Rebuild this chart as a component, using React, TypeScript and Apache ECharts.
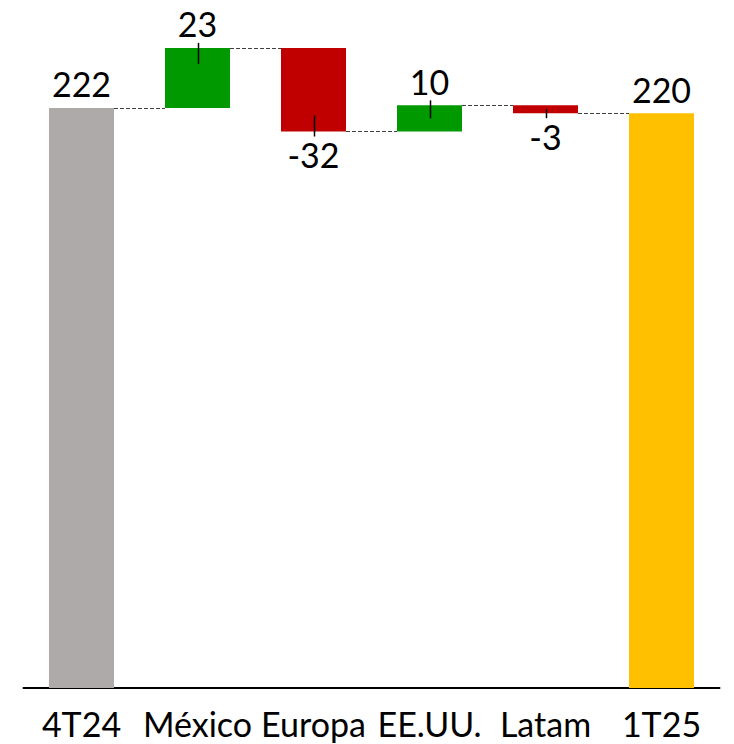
import React, { useEffect, useRef } from "react";
import * as echarts from "echarts";

const categories = ["4T24", "México", "Europa", "EE.UU.", "Latam", "1T25"];
const startTotal = 222;
const changes = [23, -32, 10, -3];
const endTotal = 220;

const colorTotalStart = "#AEAAAA";
const colorTotalEnd = "#FFC000";
const colorUp = "#009900";
const colorDown = "#C00000";

export default function App() {
  const ref = useRef<HTMLDivElement>(null);
  useEffect(() => {
    if (!ref.current) return;
    const chart = echarts.init(ref.current, undefined, { renderer: "svg" });

    const levels: number[] = [startTotal];
    changes.forEach((c) => levels.push(levels[levels.length - 1] + c));
    const base: number[] = [0];
    const visible: any[] = [];
    const labelValues: number[] = [startTotal];
    visible.push({ value: startTotal, itemStyle: { color: colorTotalStart }, label: { position: "top" } });
    changes.forEach((c, k) => {
      const prev = levels[k];
      const next = levels[k + 1];
      base.push(Math.min(prev, next));
      visible.push({
        value: Math.abs(c),
        itemStyle: { color: c >= 0 ? colorUp : colorDown },
        label: { position: c >= 0 ? "top" : "bottom", distance: c >= 0 ? 7 : 6 },
      });
      labelValues.push(c);
    });
    base.push(0);
    visible.push({ value: endTotal, itemStyle: { color: colorTotalEnd }, label: { position: "top" } });
    labelValues.push(endTotal);

    const barWidth = 65;
    const connectors = levels.map((lv, i) => [i, lv]);
    const leaders = changes.map((c, k) => [k + 1, levels[k + 1], levels[k]]);

    chart.setOption({
      animation: false,
      grid: { left: 23.5, right: 14.5, top: 8.7, bottom: 56 },
      xAxis: {
        type: "category",
        data: categories,
        axisTick: { show: false },
        axisLine: { show: true, lineStyle: { color: "#000", width: 2 } },
        axisLabel: {
          color: "#000",
          fontFamily: "Lato",
          fontSize: 34,
          margin: 18,
          interval: 0,
        },
      },
      yAxis: {
        type: "value",
        min: 0,
        max: 260,
        show: false,
        splitLine: { show: false },
      },
      series: [
        {
          type: "bar",
          stack: "w",
          data: base,
          barWidth,
          itemStyle: { color: "rgba(0,0,0,0)" },
          silent: true,
        },
        {
          type: "bar",
          stack: "w",
          data: visible,
          barWidth,
          label: {
            show: true,
            color: "#000",
            fontFamily: "Lato",
            fontSize: 34,
            distance: 7,
            formatter: (p: any) => String(labelValues[p.dataIndex]),
          },
        },
        {
          type: "custom",
          data: connectors,
          z: 5,
          renderItem: (params: any, api: any) => {
            const i = api.value(0);
            const lv = api.value(1);
            const p1 = api.coord([i, lv]);
            const p2 = api.coord([i + 1, lv]);
            const y = Math.round(p1[1]) + 0.5;
            return {
              type: "line",
              shape: { x1: p1[0] + barWidth / 2, y1: y, x2: p2[0] - barWidth / 2, y2: y },
              style: { stroke: "#404040", lineWidth: 1, lineDash: [4, 2] },
            };
          },
        },
        {
          type: "custom",
          data: leaders,
          z: 6,
          renderItem: (params: any, api: any) => {
            const i = api.value(0);
            const endV = api.value(1);
            const startV = api.value(2);
            const pe = api.coord([i, endV]);
            const ps = api.coord([i, startV]);
            const h = Math.abs(pe[1] - ps[1]);
            const inside = Math.min(16, h / 2);
            const up = endV > startV;
            const x = Math.round(pe[0]) + 0.5;
            const y1 = up ? pe[1] - 5 : pe[1] + 5;
            const y2 = up ? pe[1] + inside : pe[1] - inside;
            return {
              type: "line",
              shape: { x1: x, y1, x2: x, y2 },
              style: { stroke: "#000", lineWidth: 1.5 },
            };
          },
        },
      ],
    });
    return () => chart.dispose();
  }, []);
  return (
    <div
      ref={ref}
      style={{ position: "absolute", left: 0, top: 0, width: 734, height: 744, background: "#fff" }}
    />
  );
}
